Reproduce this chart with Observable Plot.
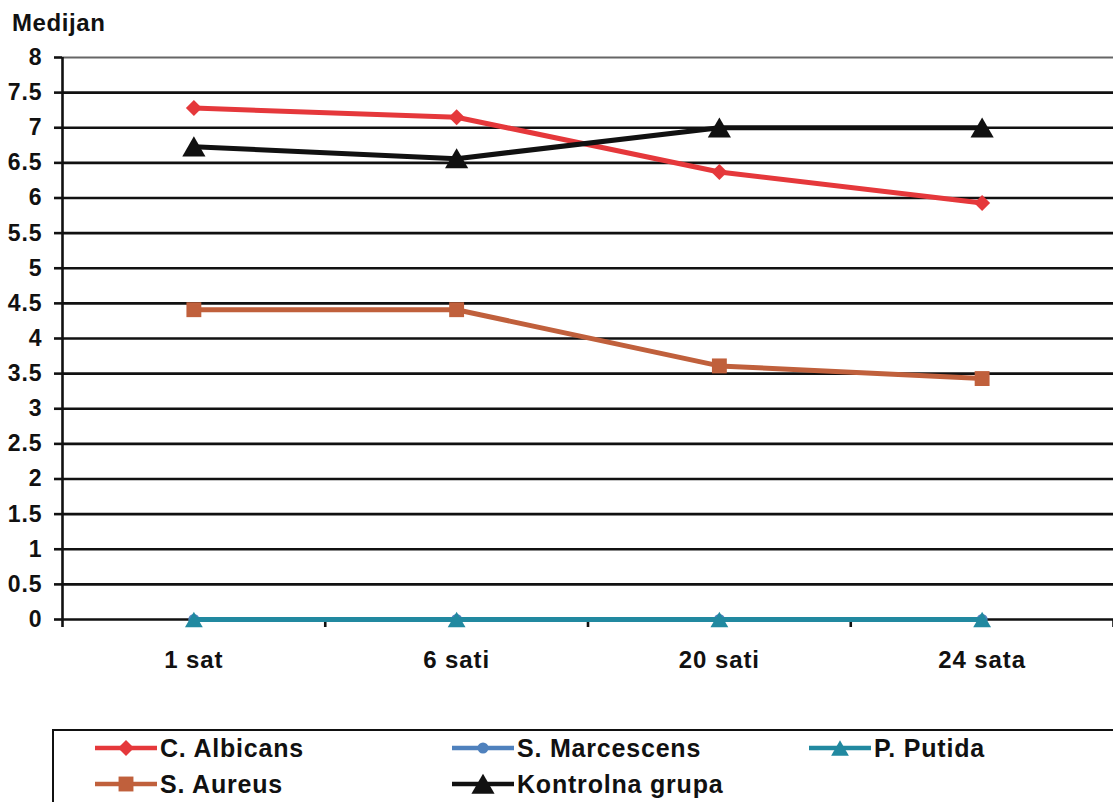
<!DOCTYPE html>
<html>
<head>
<meta charset="utf-8">
<script src="https://cdn.jsdelivr.net/npm/d3@7"></script>
<script src="https://cdn.jsdelivr.net/npm/@observablehq/plot@0.6"></script>
<style>
  html, body { margin: 0; padding: 0; background: #fff; overflow: hidden; }
  body { width: 1113px; height: 802px; position: relative; font-family: "Liberation Sans", Arial, sans-serif; font-weight: bold; color: #111; }
  #title { position: absolute; left: 12px; top: 11px; font-size: 24px; line-height: 24px; letter-spacing: 0.6px; }
  #chart { position: absolute; left: 0; top: 0; }
  #legend { position: absolute; left: 52px; top: 729px; width: 1080px; height: 100px; border: 2px solid #111; box-sizing: border-box; }
  .item { position: absolute; height: 30px; display: flex; align-items: center; font-size: 25px; letter-spacing: 0.8px; white-space: nowrap; }
  .item svg { display: block; margin-right: 3px; }
</style>
</head>
<body>
<div id="title">Medijan</div>
<div id="chart"></div>
<div id="legend"></div>
<script>
// ---- data ----
const categories = ["1 sat", "6 sati", "20 sati", "24 sata"];
const seriesNames = ["C. Albicans", "S. Marcescens", "P. Putida", "S. Aureus", "Kontrolna grupa"];
const cAlbicans = [7.28, 7.15, 6.37, 5.93];
const sMarcescens = [0, 0, 0, 0];
const pPutida = [0, 0, 0, 0];
const sAureus = [4.41, 4.41, 3.61, 3.43];
const kontrolnaGrupa = [6.73, 6.56, 7.0, 7.0];
const yTicks = [0, 0.5, 1, 1.5, 2, 2.5, 3, 3.5, 4, 4.5, 5, 5.5, 6, 6.5, 7, 7.5, 8];

// ---- styles ----
const seriesValues = [cAlbicans, sMarcescens, pPutida, sAureus, kontrolnaGrupa];
const colors = ["#e5383b", "#4f81bd", "#2189a0", "#c0603c", "#111111"];

const diamond = {
  draw(ctx, size) {
    const r = Math.sqrt(size) * 0.62625;
    ctx.moveTo(0, -r); ctx.lineTo(r, 0); ctx.lineTo(0, r); ctx.lineTo(-r, 0); ctx.closePath();
  }
};
const markerSpec = [
  {symbol: diamond, r: 7.2, dy: 0},
  {symbol: "circle", r: 5.5, dy: 0},
  {symbol: "triangle", r: 6.6, dy: 2.5},
  {symbol: "square", r: 8.4, dy: 0},
  {symbol: "triangle", r: 8.6, dy: 3}
];

const rows = seriesNames.map((name, s) =>
  seriesValues[s].map((v, i) => ({series: name, x: i + 0.5, y: v}))
);

const marks = [
  Plot.ruleY(yTicks.filter(d => d !== 8), {stroke: "#111", strokeWidth: 2.6}),
  Plot.ruleY([8], {stroke: "#666", strokeWidth: 2}),
  Plot.ruleX([0], {y1: 0, y2: 8, stroke: "#111", strokeWidth: 2.6}),
  Plot.axisY({ticks: yTicks, tickSize: 8, tickPadding: 12, fontSize: 23, fontWeight: "bold", stroke: "#111", strokeWidth: 2.6, label: null, tickFormat: d => String(d)}),
  Plot.axisX({ticks: [0, 1, 2, 3, 4], tickSize: 8, tickFormat: () => "", stroke: "#111", strokeWidth: 2.6, label: null}),
  Plot.axisX({ticks: categories.map((c, i) => i + 0.5), tickSize: 0, tickPadding: 31, fontSize: 24, fontWeight: "bold", tickFormat: d => categories[Math.round(d - 0.5)], label: null})
];
rows.forEach((r, s) => {
  marks.push(Plot.line(r, {x: "x", y: "y", stroke: colors[s], strokeWidth: 5}));
  marks.push(Plot.dot(r, {x: "x", y: "y", symbol: markerSpec[s].symbol, r: markerSpec[s].r, dy: markerSpec[s].dy, fill: colors[s], stroke: "none"}));
});

const plot = Plot.plot({
  width: 1113,
  height: 700,
  marginTop: 57,
  marginBottom: 81,
  marginLeft: 62,
  marginRight: 0,
  x: {type: "linear", domain: [0, 4]},
  y: {type: "linear", domain: [0, 8]},
  style: {fontFamily: "'Liberation Sans', Arial, sans-serif", fontWeight: "bold", color: "#111", background: "transparent", letterSpacing: "0.9px"},
  marks
});
document.getElementById("chart").appendChild(plot);

// ---- legend ----
const legend = document.getElementById("legend");
const legendPos = [[95, 748], [452, 748], [809, 748], [95, 784], [452, 784]];
const ns = "http://www.w3.org/2000/svg";
seriesNames.forEach((name, s) => {
  const item = document.createElement("div");
  item.className = "item";
  item.style.left = (legendPos[s][0] - 54) + "px";
  item.style.top = (legendPos[s][1] - 15 - 731) + "px";
  const svg = document.createElementNS(ns, "svg");
  svg.setAttribute("width", 62); svg.setAttribute("height", 30);
  const line = document.createElementNS(ns, "line");
  line.setAttribute("x1", 0); line.setAttribute("x2", 62);
  line.setAttribute("y1", 15); line.setAttribute("y2", 15);
  line.setAttribute("stroke", colors[s]); line.setAttribute("stroke-width", 4.5);
  svg.appendChild(line);
  const m = markerSpec[s];
  const sym = typeof m.symbol === "string"
    ? ({circle: d3.symbolCircle, square: d3.symbolSquare, triangle: d3.symbolTriangle})[m.symbol]
    : m.symbol;
  const p = document.createElementNS(ns, "path");
  p.setAttribute("d", d3.symbol(sym, Math.PI * m.r * m.r)());
  p.setAttribute("transform", `translate(31,${15 + m.dy})`);
  p.setAttribute("fill", colors[s]);
  svg.appendChild(p);
  item.appendChild(svg);
  const t = document.createElement("span");
  t.textContent = name;
  item.appendChild(t);
  legend.appendChild(item);
});
</script>
</body>
</html>
